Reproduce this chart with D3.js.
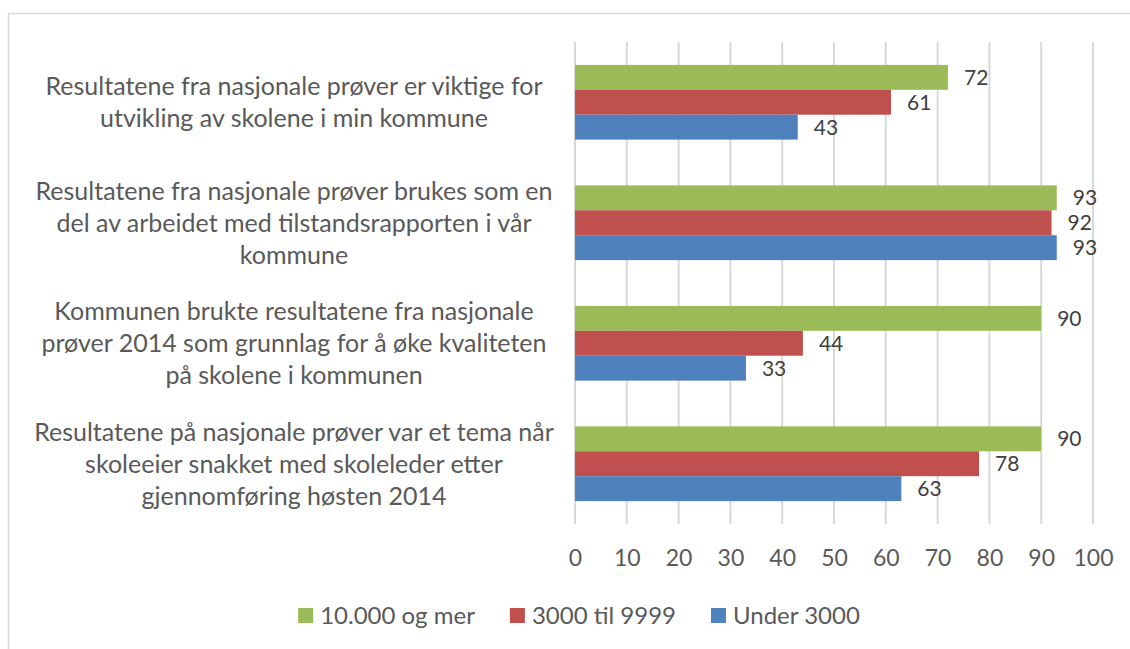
<!DOCTYPE html>
<html>
<head>
<meta charset="utf-8">
<script src="https://cdn.jsdelivr.net/npm/d3@7"></script>
<style>
  html, body { margin: 0; padding: 0; background: #fff; }
  svg { display: block; font-family: Lato, "Open Sans", sans-serif; }
</style>
</head>
<body>
<svg id="chart" width="1130" height="649"></svg>
<script>
// Survey statements (category axis), each wrapped onto display lines
const categories = [
  ["Resultatene fra nasjonale prøver er viktige for", "utvikling av skolene i min kommune"],
  ["Resultatene fra nasjonale prøver brukes som en", "del av arbeidet med tilstandsrapporten i vår", "kommune"],
  ["Kommunen brukte resultatene fra nasjonale", "prøver 2014 som grunnlag for å øke kvaliteten", "på skolene i kommunen"],
  ["Resultatene på nasjonale prøver var et tema når", "skoleeier snakket med skoleleder etter", "gjennomføring høsten 2014"]
];

// Municipality size groups
const seriesNames = ["10.000 og mer", "3000 til 9999", "Under 3000"];
const seriesColors = ["#9BBB59", "#C0504D", "#4F81BD"];

// Values per series, in category order
const valuesLarge  = [72, 93, 90, 90];
const valuesMedium = [61, 92, 44, 78];
const valuesSmall  = [43, 93, 33, 63];
const seriesValues = [valuesLarge, valuesMedium, valuesSmall];

// Value axis ticks
const tickValues = [0, 10, 20, 30, 40, 50, 60, 70, 80, 90, 100];

const svg = d3.select("#chart");
const W = 1130, H = 649;

svg.append("rect").attr("width", W).attr("height", H).attr("fill", "#fff");

// Chart area frame (top and left edges)
svg.append("path")
  .attr("d", `M8.5,${H} V13.5 H${W}`)
  .attr("fill", "none")
  .attr("stroke", "#d9d9d9")
  .attr("stroke-width", 1.5);

const plotTop = 42, plotBottom = 524;
const x = d3.scaleLinear().domain([0, 100]).range([575, 1093]);
const catIdx = categories.map((d, i) => i);
const y = d3.scaleBand().domain(catIdx).range([plotTop, plotBottom])
  .paddingInner(0.38).paddingOuter(0.19);
const ySeries = d3.scaleBand().domain(seriesNames).range([0, y.bandwidth()]);

// Vertical gridlines
svg.append("g").selectAll("line").data(tickValues).join("line")
  .attr("x1", d => x(d)).attr("x2", d => x(d))
  .attr("y1", plotTop).attr("y2", plotBottom)
  .attr("stroke", "#d9d9d9").attr("stroke-width", 2);

// Tick labels
const xAxis = d3.axisBottom(x).tickValues(tickValues).tickSize(0).tickPadding(0);
const gx = svg.append("g").attr("transform", `translate(0,${plotBottom})`).call(xAxis);
gx.select(".domain").remove();
gx.selectAll("text")
  .attr("y", 34).attr("dy", "0.36em")
  .attr("fill", "#595959")
  .style("font-size", "23px")
  .style("font-family", "Lato, 'Open Sans', sans-serif");

// Bars and value labels
const groups = svg.append("g").selectAll("g").data(catIdx).join("g")
  .attr("transform", d => `translate(0,${y(d)})`);

seriesNames.forEach((name, s) => {
  groups.append("rect")
    .attr("x", x(0))
    .attr("y", ySeries(name))
    .attr("width", i => x(seriesValues[s][i]) - x(0))
    .attr("height", ySeries.bandwidth())
    .attr("fill", seriesColors[s]);
  groups.append("text")
    .attr("x", i => x(seriesValues[s][i]) + 16)
    .attr("y", ySeries(name) + ySeries.bandwidth() / 2)
    .attr("dy", "0.36em")
    .attr("fill", "#404040")
    .style("font-size", "21px")
    .text(i => seriesValues[s][i]);
});

// Category labels, centred in the label column
const lineH = 32;
svg.append("g").selectAll("text").data(catIdx).join("text")
  .attr("text-anchor", "middle")
  .attr("fill", "#595959")
  .style("font-size", "25px")
  .each(function (i) {
    const lines = categories[i];
    const cy = y(i) + y.bandwidth() / 2;
    const t = d3.select(this);
    lines.forEach((ln, k) => {
      t.append("tspan")
        .attr("x", 294)
        .attr("y", cy + (k - (lines.length - 1) / 2) * lineH)
        .attr("dy", "0.36em")
        .text(ln);
    });
  });

// Legend
const legend = svg.append("g");
const items = legend.selectAll("g").data(seriesNames).join("g");
items.append("rect").attr("width", 15).attr("height", 15).attr("y", 608)
  .attr("fill", (d, i) => seriesColors[i]);
items.append("text").attr("x", 22).attr("y", 615.5).attr("dy", "0.36em")
  .attr("fill", "#595959").style("font-size", "24px").text(d => d);
let cursor = 0;
const offsets = [];
items.each(function () {
  const w = d3.select(this).select("text").node().getComputedTextLength();
  offsets.push(cursor);
  cursor += 22 + w + 35;
});
const totalW = cursor - 35;
const startX = 579 - totalW / 2;
items.attr("transform", (d, i) => `translate(${startX + offsets[i]},0)`);
</script>
</body>
</html>
